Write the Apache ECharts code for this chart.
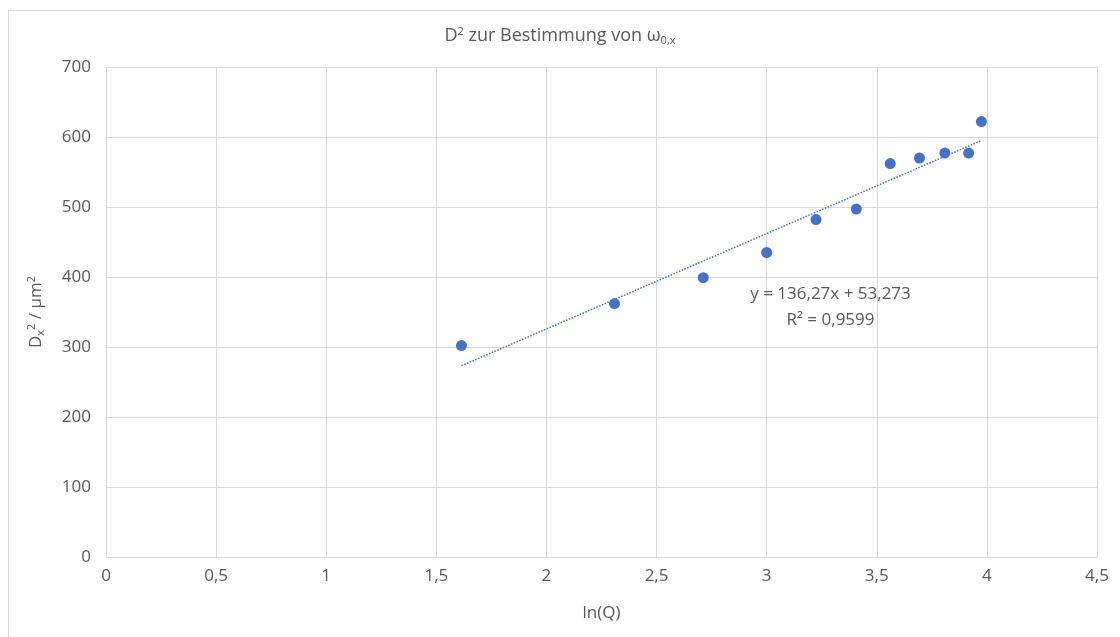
<!DOCTYPE html>
<html>
<head>
<meta charset="utf-8">
<script src="https://cdn.jsdelivr.net/npm/echarts@6/dist/echarts.min.js"></script>
<style>
  html, body { margin: 0; padding: 0; background: #fff; }
  #frame { position: absolute; left: 8px; top: 10px; width: 1120px; height: 640px; border: 1px solid #d9d9d9; }
  #chart { position: absolute; left: 0; top: 0; width: 1120px; height: 637px; }
</style>
</head>
<body>
<div id="frame"></div>
<div id="chart"></div>
<script>
// Messwerte: ln(Q) und D_x^2 in µm^2
var lnQ = [1.614, 2.309, 2.712, 3.000, 3.224, 3.407, 3.561, 3.694, 3.809, 3.917, 3.975];
var dx2 = [302, 362, 399, 435, 482, 497, 562, 570, 577, 577, 622];

// lineare Trendlinie (aus Excel)
var slope = 136.27;
var intercept = 53.273;
var eqText = 'y = 136,27x + 53,273';
var r2Text = 'R² = 0,9599';

var xMin = Math.min.apply(null, lnQ);
var xMax = Math.max.apply(null, lnQ);
var trend = [[xMin, slope * xMin + intercept], [xMax, slope * xMax + intercept]];

var points = lnQ.map(function (x, i) { return [x, dx2[i]]; });

var fontFam = '"Open Sans", "Noto Sans", sans-serif';
var grey = '#595959';

var richSmall = {
  sup: { fontSize: 11, verticalAlign: 'top', color: grey, fontFamily: fontFam, padding: [0, 0, 9, 0] },
  sub: { fontSize: 11, verticalAlign: 'bottom', color: grey, fontFamily: fontFam, padding: [9, 0, 0, 0] }
};

var myChart = echarts.init(document.getElementById('chart'));
var option = {
  animation: false,
  title: {
    text: 'D{sup|2} zur Bestimmung von ω{sub|0,x}',
    left: 'center',
    top: 21,
    textStyle: {
      color: grey,
      fontSize: 18,
      fontWeight: 'normal',
      fontFamily: fontFam,
      rich: richSmall
    }
  },
  grid: {
    left: 106,
    right: 23,
    top: 67,
    bottom: 80
  },
  xAxis: {
    type: 'value',
    min: 0,
    max: 4.5,
    interval: 0.5,
    name: 'ln(Q)',
    nameLocation: 'middle',
    nameGap: 48,
    nameTextStyle: { color: grey, fontSize: 17, fontFamily: fontFam },
    axisLine: { show: true, lineStyle: { color: '#d9d9d9' } },
    axisTick: { show: false },
    splitLine: { show: true, lineStyle: { color: '#d9d9d9' } },
    axisLabel: {
      color: grey,
      fontSize: 17,
      fontFamily: fontFam,
      margin: 11,
      formatter: function (v) { return String(v).replace('.', ','); }
    }
  },
  yAxis: {
    type: 'value',
    min: 0,
    max: 700,
    interval: 100,
    name: 'D{sub|x}{sup|2} / µm{sup|2}',
    nameLocation: 'middle',
    nameRotate: 90,
    nameGap: 60,
    nameTextStyle: {
      color: grey,
      fontSize: 17,
      fontFamily: fontFam,
      rich: richSmall
    },
    axisLine: { show: false },
    axisTick: { show: false },
    splitLine: { show: true, lineStyle: { color: '#d9d9d9' } },
    axisLabel: { color: grey, fontSize: 17, fontFamily: fontFam, margin: 15 }
  },
  series: [
    {
      name: 'Trend',
      type: 'line',
      data: trend,
      symbol: 'none',
      silent: true,
      lineStyle: { color: '#4472C4', width: 1.5, type: [1.5, 1.5] },
      z: 1,
      markPoint: {
        symbol: 'circle',
        symbolSize: 0,
        silent: true,
        data: [{
          coord: [3.29, 357],
          label: {
            show: true,
            position: 'inside',
            formatter: eqText + '\n' + r2Text,
            color: grey,
            fontSize: 17,
            fontFamily: fontFam,
            lineHeight: 26,
            align: 'center'
          }
        }]
      }
    },
    {
      name: 'D2',
      type: 'scatter',
      data: points,
      symbol: 'circle',
      symbolSize: 11,
      itemStyle: { color: '#4472C4', opacity: 1 },
      z: 3
    }
  ]
};
myChart.setOption(option);
</script>
</body>
</html>
